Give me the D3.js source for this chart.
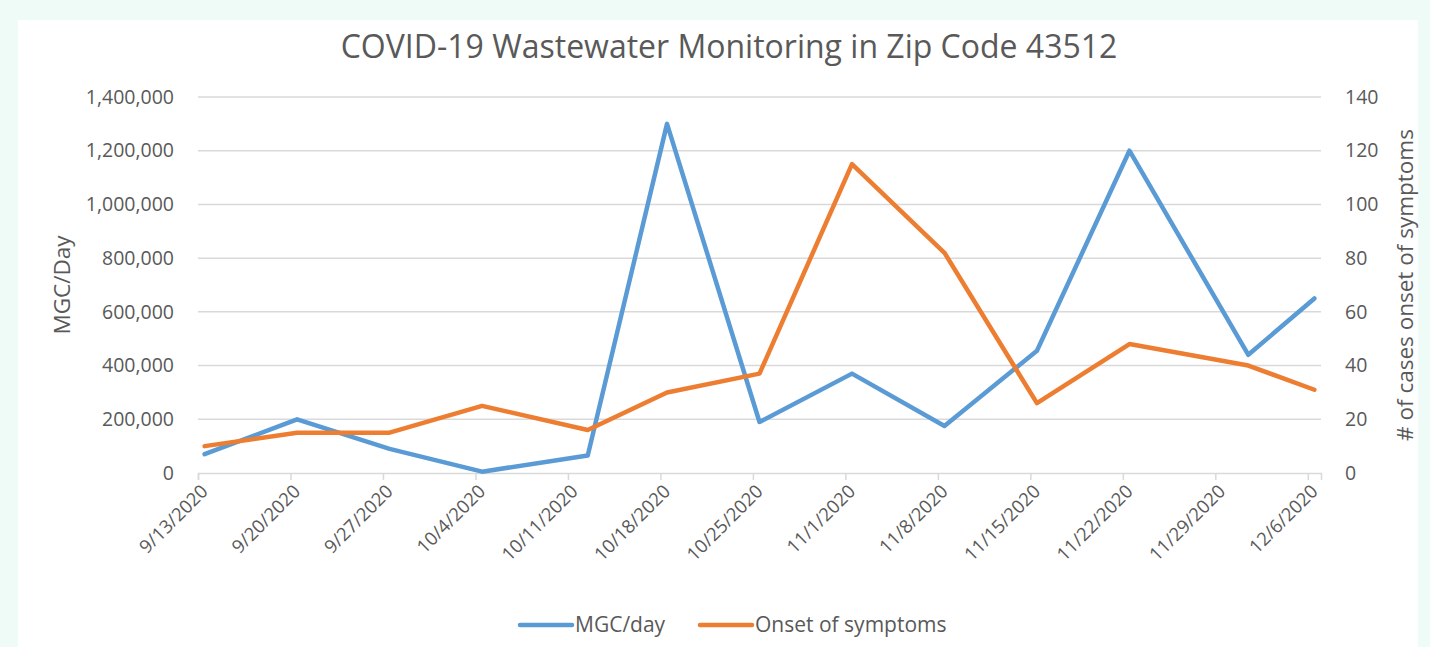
<!DOCTYPE html>
<html>
<head>
<meta charset="utf-8">
<script src="https://cdn.jsdelivr.net/npm/d3@7"></script>
<style>
  body { margin: 0; background: #effbf6; }
  svg { display: block; }
  text { font-family: "Open Sans", "Liberation Sans", sans-serif; fill: #595959; }
</style>
</head>
<body>
<svg id="chart" width="1430" height="647"></svg>
<script>
// sample dates (weekly, with two off-week samples)
var dates = ["2020-09-13","2020-09-20","2020-09-27","2020-10-04","2020-10-12","2020-10-18","2020-10-25",
             "2020-11-01","2020-11-08","2020-11-15","2020-11-22","2020-12-01","2020-12-06"];
var mgcPerDay = [70000,200000,90000,5000,65000,1300000,190000,370000,175000,455000,1200000,440000,650000];
var onsetCases = [10,15,15,25,16,30,37,115,82,26,48,40,31];
var leftTicks = [0,200000,400000,600000,800000,1000000,1200000,1400000];
var rightTicks = [0,20,40,60,80,100,120,140];
var seriesNames = ["MGC/day","Onset of symptoms"];

var parse = d3.timeParse("%Y-%m-%d");
var days = dates.map(parse);

var svg = d3.select("#chart");
svg.append("rect").attr("x",18).attr("y",20).attr("width",1400).attr("height",627).attr("fill","#fff");

var m = {left:198, right:1321, top:97, bottom:473};

// excel-style date axis: each day is a slot, points sit in the middle of the slot
var x = d3.scaleTime()
    .domain([parse("2020-09-13"), parse("2020-12-07")])
    .range([m.left, m.right]);
var yL = d3.scaleLinear().domain([0,1400000]).range([m.bottom, m.top]);
var yR = d3.scaleLinear().domain([0,140]).range([m.bottom, m.top]);
var mid = function(d) { return x(d3.timeHour.offset(d, 12)); };

svg.append("text")
    .attr("x",729).attr("y",58)
    .attr("text-anchor","middle")
    .style("font-size","32px")
    .text("COVID-19 Wastewater Monitoring in Zip Code 43512");

// gridlines
svg.append("g").selectAll("line")
    .data(leftTicks.slice(1))
    .enter().append("line")
    .attr("x1",m.left).attr("x2",m.right)
    .attr("y1",function(d){return yL(d);}).attr("y2",function(d){return yL(d);})
    .attr("stroke","#d9d9d9").attr("stroke-width",1.5);

// x axis
var weekTicks = d3.timeDay.range(parse("2020-09-13"), parse("2020-12-07"), 7);
var xAxis = d3.axisBottom(x)
    .tickValues(weekTicks)
    .tickSize(7)
    .tickFormat(d3.timeFormat("%-m/%-d/%Y"));
var gx = svg.append("g")
    .attr("transform","translate(0," + m.bottom + ")")
    .call(xAxis);
gx.select(".domain").attr("stroke","#d9d9d9").attr("stroke-width",1.5);
gx.selectAll(".tick line").attr("stroke","#d9d9d9").attr("stroke-width",1.5);
gx.selectAll(".tick text")
    .style("font-size","18.5px")
    .attr("fill","#595959")
    .attr("text-anchor","end")
    .attr("transform","translate(6,15) rotate(-45)")
    .attr("dy","0.35em")
    .attr("y",0).attr("x",0);

// left axis
var gl = svg.append("g")
    .attr("transform","translate(" + (m.left - 21) + ",0)")
    .call(d3.axisLeft(yL).tickValues(leftTicks).tickSize(0).tickFormat(d3.format(",")));
gl.select(".domain").remove();
gl.selectAll("text").style("font-size","19.5px").attr("fill","#595959");

// right axis
var gr = svg.append("g")
    .attr("transform","translate(" + (m.right + 21) + ",0)")
    .call(d3.axisRight(yR).tickValues(rightTicks).tickSize(0));
gr.select(".domain").remove();
gr.selectAll("text").style("font-size","19.5px").attr("fill","#595959");

svg.append("text")
    .attr("transform","translate(70,285) rotate(-90)")
    .attr("text-anchor","middle")
    .style("font-size","22.5px")
    .text("MGC/Day");

svg.append("text")
    .attr("transform","translate(1413,285) rotate(-90)")
    .attr("text-anchor","middle")
    .style("font-size","22.5px")
    .text("# of cases onset of symptoms");

// lines
var lineL = d3.line().x(function(d,i){return mid(days[i]);}).y(function(d){return yL(d);});
var lineR = d3.line().x(function(d,i){return mid(days[i]);}).y(function(d){return yR(d);});

svg.append("path")
    .attr("d", lineL(mgcPerDay))
    .attr("fill","none").attr("stroke","#5b9bd5").attr("stroke-width",4.5)
    .attr("stroke-linejoin","round").attr("stroke-linecap","round");

svg.append("path")
    .attr("d", lineR(onsetCases))
    .attr("fill","none").attr("stroke","#ed7d31").attr("stroke-width",4.5)
    .attr("stroke-linejoin","round").attr("stroke-linecap","round");

// legend
var legColors = ["#5b9bd5","#ed7d31"];
var legX = [520, 700];
var leg = svg.append("g").selectAll("g")
    .data(seriesNames)
    .enter().append("g")
    .attr("transform",function(d,i){return "translate(" + legX[i] + ",625)";});
leg.append("line")
    .attr("x1",0).attr("x2",52).attr("y1",0).attr("y2",0)
    .attr("stroke",function(d,i){return legColors[i];})
    .attr("stroke-width",4.5).attr("stroke-linecap","round");
leg.append("text")
    .attr("x",55).attr("dy","0.35em")
    .style("font-size","21px")
    .text(function(d){return d;});
</script>
</body>
</html>
